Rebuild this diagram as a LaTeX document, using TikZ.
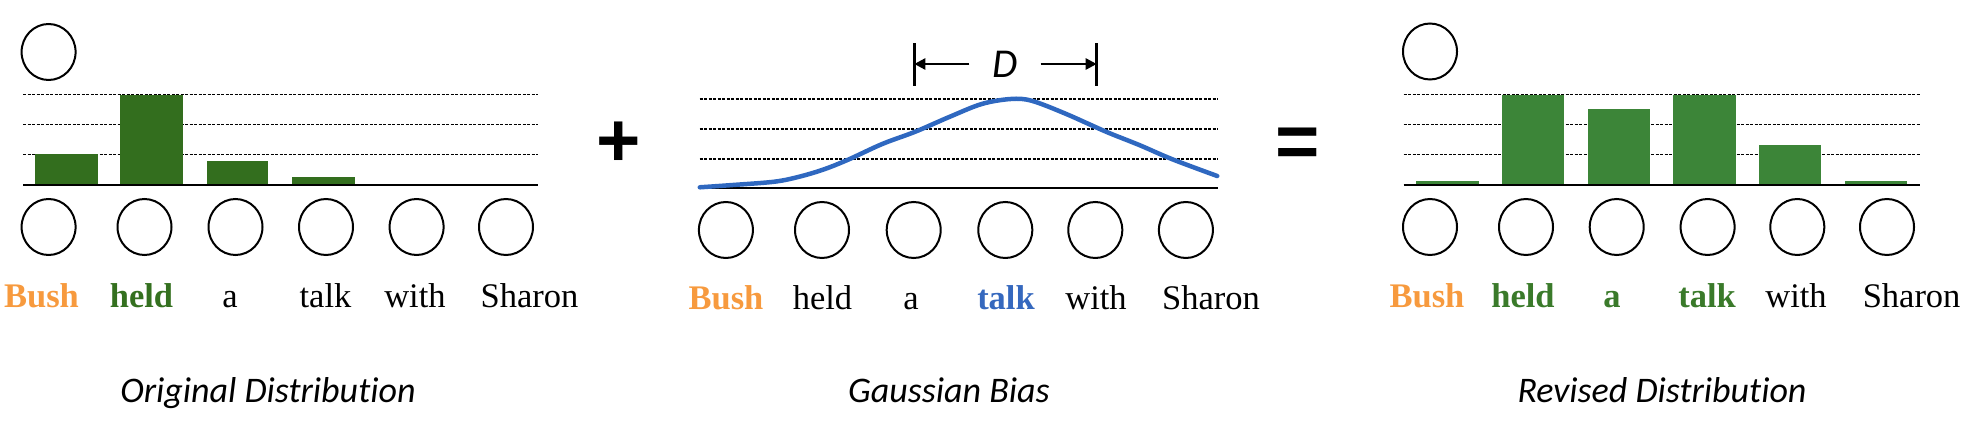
\documentclass[tikz,border=0pt]{standalone}
\usepackage{fontspec}
\setmainfont{Liberation Serif}
\newfontfamily\calib[Ligatures=NoCommon]{Carlito}
\newfontfamily\arialb{Liberation Sans}
\usetikzlibrary{shapes.geometric,arrows.meta}
\definecolor{bushorange}{HTML}{F79A3E}
\definecolor{darkbar}{HTML}{336E1E}
\definecolor{lightbar}{HTML}{3C8538}
\definecolor{heldgreen}{HTML}{34701F}
\definecolor{revgreen}{HTML}{3A7A2A}
\definecolor{curveblue}{HTML}{2F68C0}
\definecolor{talkblue}{HTML}{3568BE}
\begin{document}
\begin{tikzpicture}[x=1pt,y=-1pt,
  tok/.style={ellipse, draw, line width=2pt, minimum width=54pt, minimum height=56pt, inner sep=0pt},
  word/.style={anchor=base, font=\fontsize{34.5}{40}\selectfont, inner sep=0pt},
  caption/.style={anchor=base, font=\calib\itshape\fontsize{36}{44}\selectfont, inner sep=0pt},
  gridline/.style={line width=1.2pt, dash pattern=on 3pt off 1.5pt},
  axis/.style={line width=1.8pt},
  opsym/.style={anchor=base, font=\arialb\bfseries\fontsize{76}{80}\selectfont, inner sep=0pt},
  darr/.style={line width=2.5pt, -{Triangle[length=11pt,width=11pt]}},
  dbar/.style={line width=3.5pt}
]
\useasboundingbox (0,0) rectangle (1970,430);

% ---------- Panel 1: Original Distribution ----------
\node[tok] (a0) at (48.6,52) {};
\foreach \y in {94.3,124.3,154.3} \draw[gridline] (23,\y) -- (538,\y);
\fill[darkbar] (35,154.3) rectangle (98,185);
\fill[darkbar] (120,95) rectangle (183,185);
\fill[darkbar] (207,161) rectangle (268,185);
\fill[darkbar] (292,177) rectangle (355,185);
\draw[axis] (23,185) -- (538,185);
\node[tok] (a1) at (48.6,227) {};
\node[tok] (a2) at (144.5,227) {};
\node[tok] (a3) at (235.5,227) {};
\node[tok] (a4) at (326,227) {};
\node[tok] (a5) at (416.6,227) {};
\node[tok] (a6) at (506,227) {};
\node[word,text=bushorange,font=\fontsize{34.5}{40}\selectfont\bfseries] (aw1) at (41.5,308) {Bush};
\node[word,text=heldgreen,font=\fontsize{34.5}{40}\selectfont\bfseries] (aw2) at (141.5,308) {held};
\node[word] (aw3) at (230,308) {a};
\node[word] (aw4) at (325.5,308) {talk};
\node[word] (aw5) at (415,308) {with};
\node[word] (aw6) at (529.6,308) {Sharon};
\node[caption] (cap1) at (268,402) {Original Distribution};

% ---------- plus ----------
\node[opsym] (plus) at (619,166.8) {+};

% ---------- Panel 2: Gaussian Bias ----------
\foreach \y in {99,129,159} \draw[gridline] (699.7,\y) -- (1218,\y);
\draw[axis] (699.7,188.3) -- (1218,188.3);
\draw[curveblue, line width=4.5pt, line cap=round] plot[smooth, tension=0.55] coordinates {
  (699.8,187.3) (732.9,185) (774.4,181.7) (799.3,176.7) (824.1,169.3) (849,159.3)
  (882.2,144) (915.3,131.7) (948.5,117.3) (981.7,104) (1010.7,99) (1031.4,100.7)
  (1064.6,113.3) (1106,131.7) (1139.2,145) (1172.4,159.3) (1217.2,176)};
\node[tok] (b1) at (725.9,230) {};
\node[tok] (b2) at (822,230) {};
\node[tok] (b3) at (913.7,230) {};
\node[tok] (b4) at (1005.3,230) {};
\node[tok] (b5) at (1095.3,230) {};
\node[tok] (b6) at (1185.9,230) {};
\node[word,text=bushorange,font=\fontsize{34.5}{40}\selectfont\bfseries] (bw1) at (726,309) {Bush};
\node[word] (bw2) at (822.5,309) {held};
\node[word] (bw3) at (911,309) {a};
\node[word,text=talkblue,font=\fontsize{34.5}{40}\selectfont\bfseries] (bw4) at (1006,309) {talk};
\node[word] (bw5) at (1096,309) {with};
\node[word] (bw6) at (1211,309) {Sharon};
% D marker
\node[font=\calib\itshape\fontsize{41}{44}\selectfont, minimum width=71pt, inner sep=0pt] (D) at (1005,64) {D};
\coordinate (dl) at (914.3,64);
\coordinate (dr) at (1096.7,64);
\draw[dbar] (914.3,43.3) -- (914.3,86);
\draw[dbar] (1096.7,43.3) -- (1096.7,86);
\draw[darr] (D.west) -- (dl);
\draw[darr] (D.east) -- (dr);
\node[caption] (cap2) at (949,402) {Gaussian Bias};

% ---------- equals ----------
\node[opsym] (equals) at (1298,168) {=};

% ---------- Panel 3: Revised Distribution ----------
\node[tok] (c0) at (1430,51.5) {};
\foreach \y in {94.3,124.3,154.3} \draw[gridline] (1403.5,\y) -- (1920,\y);
\fill[lightbar] (1416,181) rectangle (1479,185);
\fill[lightbar] (1501.8,95) rectangle (1563.9,185);
\fill[lightbar] (1588,109) rectangle (1650,185);
\fill[lightbar] (1672.9,95) rectangle (1736,185);
\fill[lightbar] (1759,145) rectangle (1821,185);
\fill[lightbar] (1845,181) rectangle (1907,185);
\draw[axis] (1403.5,185) -- (1920,185);
\node[tok] (c1) at (1430,227) {};
\node[tok] (c2) at (1526,227) {};
\node[tok] (c3) at (1616.7,227) {};
\node[tok] (c4) at (1707.6,227) {};
\node[tok] (c5) at (1797.3,227) {};
\node[tok] (c6) at (1887,227) {};
\node[word,text=bushorange,font=\fontsize{34.5}{40}\selectfont\bfseries] (cw1) at (1427,308) {Bush};
\node[word,text=revgreen,font=\fontsize{34.5}{40}\selectfont\bfseries] (cw2) at (1523,308) {held};
\node[word,text=revgreen,font=\fontsize{34.5}{40}\selectfont\bfseries] (cw3) at (1612,308) {a};
\node[word,text=revgreen,font=\fontsize{34.5}{40}\selectfont\bfseries] (cw4) at (1707,308) {talk};
\node[word] (cw5) at (1796,308) {with};
\node[word] (cw6) at (1911.6,308) {Sharon};
\node[caption] (cap3) at (1662,402) {Revised Distribution};
\end{tikzpicture}
\end{document}
